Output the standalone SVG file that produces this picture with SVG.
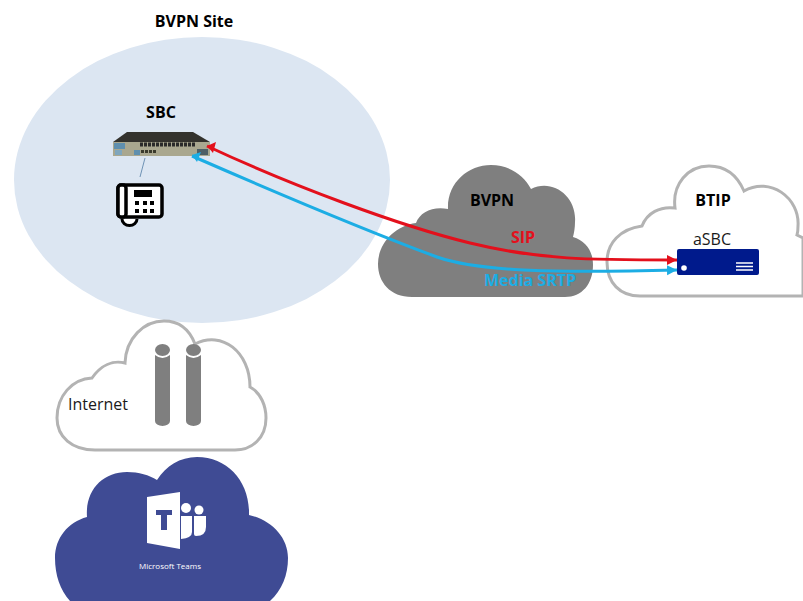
<svg xmlns="http://www.w3.org/2000/svg" width="803" height="601" viewBox="0 0 803 601">
<defs>
<style>
.b{font-family:"Open Sans","Liberation Sans",sans-serif;font-weight:700;font-size:16px;text-anchor:middle}
.r{font-family:"Open Sans","Liberation Sans",sans-serif;font-size:16px;fill:#1a1a1a}
.outline{fill:#fff;stroke:#b3b3b3;stroke-width:3}
.pipe{fill:#7f7f7f}
</style>
<marker id="ar" markerUnits="userSpaceOnUse" markerWidth="12" markerHeight="12" refX="10" refY="5" orient="auto"><path d="M0 0L10 5L0 10z" fill="#e3101c"/></marker>
<marker id="ab" markerUnits="userSpaceOnUse" markerWidth="12" markerHeight="12" refX="10" refY="5" orient="auto"><path d="M0 0L10 5L0 10z" fill="#1cade4"/></marker>
</defs>
<rect width="803" height="601" fill="#fff"/>
<g id="bvpn-site">
<ellipse cx="202" cy="180" rx="188" ry="143" fill="#dce6f2"/>
<text class="b" x="194" y="27">BVPN Site</text>
</g>
<g id="sbc">
<text class="b" x="161" y="118">SBC</text>
<path d="M113 142L127 132H193L210 142L209 156H113z" fill="#33322d"/>
<rect x="113" y="142" width="97" height="14" fill="#a9a78f"/>
<rect x="114" y="143" width="11" height="6" fill="#5f8fae"/>
<rect x="115" y="150" width="7" height="5" fill="#7fa6bd"/>
<rect x="134" y="150" width="6" height="5" fill="#5f8fae"/>
<path d="M140 144.500h56" stroke="#2a2a2a" stroke-width="4" stroke-dasharray="3 1"/>
<path d="M141 151.500h16" stroke="#3a3a2c" stroke-width="3" stroke-dasharray="3 1"/>
<rect x="197" y="149" width="11" height="6" fill="#4e5f66"/>
</g>
<g id="phone">
<line x1="145" y1="158" x2="140" y2="177" stroke="#6f93b5" stroke-width="1"/>
<path d="M122 219a7.500 6.500 0 1 0 15 0" fill="#fff" stroke="#000" stroke-width="3"/>
<rect x="118" y="185" width="44" height="32" rx="3" fill="#fff" stroke="#000" stroke-width="3.500"/>
<rect x="118" y="185" width="8" height="32" rx="3" fill="#fff" stroke="#000" stroke-width="3.500"/>
<rect x="134" y="190" width="18" height="7" fill="#000"/>
<path d="M135 201h4v4h-4zM143 201h4v4h-4zM150 201h4v4h-4zM135 209h4v4h-4zM143 209h4v4h-4zM150 209h4v4h-4z" fill="#000"/>
</g>
<g id="bvpn-cloud">
<path d="M412 297C390 297 378 282 378 264C378 244 394 226 416 223C420 212 433 206 448 209C447 183 468 165 491 165C509 165 524 175 531 189C552 178 577 196 575 222C575 228 574 233 573 237C586 241 593 251 593 265C593 284 582 297 565 297z" fill="#7f7f7f"/>
<text class="b" x="492" y="206" fill="#000">BVPN</text>
</g>
<g id="btip-cloud">
<path class="outline" d="M640 296C620 296 607 283 607 262C607 243 620 229 642 226C647 213 660 206 675 208C672 184 688 166 709 166C725 166 737 175 744 191C770 176 800 198 798 226C798 230 798 232 797 235L803 238V296z"/>
<text class="b" x="713" y="206" fill="#000">BTIP</text>
</g>
<g id="asbc">
<text class="r" x="712" y="245" text-anchor="middle">aSBC</text>
<rect x="677" y="249" width="82" height="26" rx="2" fill="#001a8c"/>
<circle cx="684" cy="268" r="2.800" fill="#fff"/>
<path d="M736 263h17M736 266.500h17M736 270h17" stroke="#fff" stroke-width="1.500"/>
</g>
<g id="internet-cloud">
<path class="outline" d="M95 450C72 450 57 437 57 418C57 396 72 379 92 378C101 365 113 360 125 363C126 338 144 321 164 321C180 321 190 331 195 344C222 330 250 352 250 387C261 393 266 406 266 418C266 438 252 450 235 450z"/>
<text class="r" x="68" y="410">Internet</text>
<path class="pipe" d="M155 355Q162.500 361 170 355V421a7.500 5 0 0 1-15 0z"/>
<path class="pipe" d="M186 355Q193.500 361 201 355V421a7.500 5 0 0 1-15 0z"/>
<ellipse class="pipe" cx="162.500" cy="350" rx="7.500" ry="6"/>
<ellipse class="pipe" cx="193.500" cy="350" rx="7.500" ry="6"/>
</g>
<g id="teams-cloud">
<path d="M70 601C60 590 55 575 55 558C55 538 68 522 87 517C85 490 103 472 127 472C139 472 149 475 157 480C166 466 180 457 197 457C228 457 250 482 249 515C271 520 288 537 288 558C288 575 282 590 270 601z" fill="#3f4b94"/>
<path d="M147 497L180 492V549L147 543z" fill="#fff"/>
<path d="M156 510H172V515H167V530H161V515H156z" fill="#3f4b94"/>
<circle cx="186" cy="508" r="5" fill="#fff"/>
<circle cx="199" cy="510" r="4.500" fill="#fff"/>
<path d="M181 516H192V532Q192 538 181 539z" fill="#fff"/>
<path d="M194 516H206V527Q206 536 196 536Q194 536 194 534z" fill="#fff"/>
<text x="170" y="569" text-anchor="middle" fill="#fff" style="font-family:'Open Sans','Liberation Sans',sans-serif;font-size:8px">Microsoft Teams</text>
</g>
<g id="connectors" fill="none" stroke-width="3">
<path d="M207 146C290 185 400 226 470 243S590 260 677 260" stroke="#e3101c" marker-end="url(#ar)"/>
<path d="M192 156C270 190 370 232 437 257C480 272 560 273 677 270" stroke="#1cade4" marker-end="url(#ab)"/>
<path d="M216 142L207 146L213 153z" fill="#e3101c" stroke="none"/>
<path d="M201 152L192 155L197 162z" fill="#1cade4" stroke="none"/>
</g>
<g id="labels">
<text class="b" x="523" y="243" fill="#e3101c">SIP</text>
<text class="b" x="530" y="286" fill="#1cade4">Media SRTP</text>
</g>
</svg>
